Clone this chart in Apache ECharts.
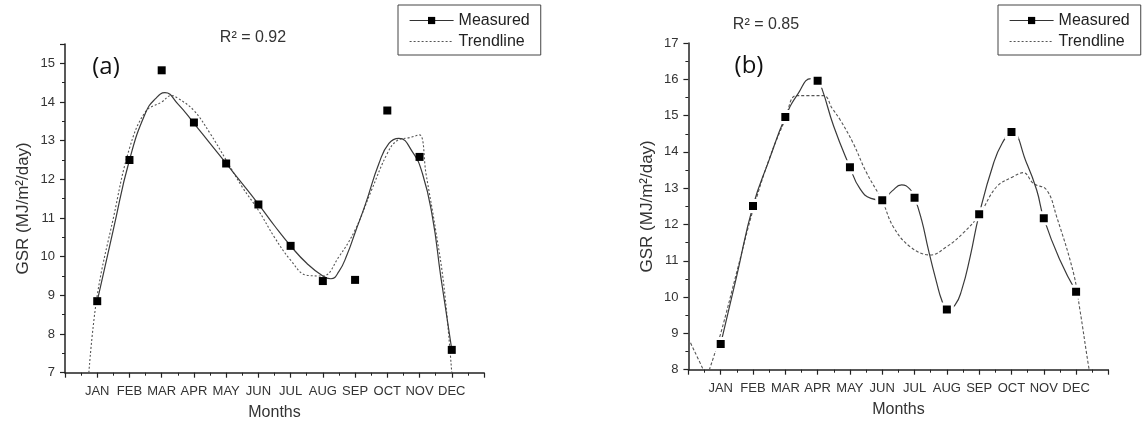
<!DOCTYPE html>
<html>
<head>
<meta charset="utf-8">
<script src="https://cdn.jsdelivr.net/npm/echarts@6/dist/echarts.min.js"></script>
<style>
  html, body { margin: 0; padding: 0; background: #fff; }
  #chart { width: 1145px; height: 427px; }
</style>
</head>
<body>
<div id="chart"></div>
<script>
// month ticks
const monthLabels = ['JAN', 'FEB', 'MAR', 'APR', 'MAY', 'JUN', 'JUL', 'AUG', 'SEP', 'OCT', 'NOV', 'DEC'];

// (a) measured points + fitted curves
const measuredA = [8.85, 12.5, 14.82, 13.47, 12.41, 11.35, 10.28, 9.37, 9.4, 13.78, 12.58, 7.59];
const curveAX = [1, 1.5, 2, 2.5, 2.8, 3.1, 3.5, 4, 4.5, 5, 5.5, 6, 6.5, 7, 7.5, 8, 8.25, 8.5, 8.75, 9, 9.33, 9.74, 10.05, 10.36, 10.78, 11.09, 11.4, 11.66, 12];
const curveAY = [8.85, 10.7, 12.5, 13.72, 14.08, 14.24, 13.95, 13.45, 12.93, 12.41, 11.89, 11.36, 10.8, 10.28, 9.83, 9.5, 9.43, 9.62, 10.05, 10.62, 11.38, 12.41, 12.93, 13.06, 12.71, 12.15, 11.03, 9.48, 7.6];
const trendAX = [0.74, 1, 1.5, 2, 2.5, 3, 3.3, 3.5, 4, 4.5, 5, 5.5, 6, 6.5, 7, 7.5, 8, 8.5, 9, 9.5, 10, 10.3, 10.7, 11, 11.2, 11.5, 11.76, 12];
const trendAY = [7.0, 9.0, 11.0, 12.8, 13.75, 14.0, 14.17, 14.1, 13.78, 13.19, 12.5, 11.8, 11.2, 10.5, 9.91, 9.52, 9.5, 10.0, 10.69, 11.7, 12.67, 13.0, 13.08, 13.15, 12.15, 10.69, 9.22, 7.0];

// (b)
const measuredB = [8.71, 12.51, 14.96, 15.96, 13.58, 12.67, 12.74, 9.66, 12.28, 14.55, 12.17, 10.15];
const curveBX = [1.5, 2.5, 3.4, 3.8, 4.13, 4.5, 5.3, 5.65, 6.3, 6.6, 6.85, 7.22, 7.43, 7.69, 7.84, 8.25, 8.46, 8.72, 9.45, 9.72, 10.47, 10.78, 11.5];
const curveBY = [10.6, 13.78, 15.61, 16.02, 15.75, 14.7, 13.0, 12.72, 12.92, 13.09, 12.98, 12.12, 11.3, 10.38, 9.92, 9.78, 10.2, 11.11, 13.7, 14.25, 13.69, 12.95, 11.02];
const trendBX = [0, 0.46, 0.55, 0.65, 1, 1.5, 2, 2.5, 3, 3.35, 4.18, 4.45, 4.7, 5.1, 5.5, 6, 6.34, 6.86, 7.48, 8, 8.5, 9, 9.54, 10.06, 10.37, 10.68, 11.09, 11.4, 11.92, 12.12, 12.38, 12.45];
const trendBY = [8.86, 8.0, 7.8, 8.0, 9.0, 10.7, 12.4, 13.8, 14.9, 15.55, 15.55, 15.2, 14.88, 14.24, 13.45, 12.65, 11.94, 11.39, 11.16, 11.39, 11.76, 12.26, 13.04, 13.32, 13.43, 13.13, 12.95, 12.21, 10.66, 9.64, 8.13, 7.8];

const monthX = monthLabels.map((_, i) => i + 1);
const pts = (xs, ys) => xs.map((x, i) => [x, ys[i]]);

const FONT = 'Liberation Sans, Arial, sans-serif';
const INK = '#222';

function monthAxis(gridIndex) {
  return {
    type: 'value', gridIndex, min: 0, max: 13, interval: 1,
    name: 'Months', nameLocation: 'middle', nameGap: 32,
    nameTextStyle: { fontSize: 16, color: '#333', fontFamily: FONT },
    axisLine: { show: true, onZero: false, lineStyle: { color: INK, width: 1.5 } },
    axisTick: { show: true, length: 5, lineStyle: { color: INK, width: 1.2 } },
    minorTick: { show: true, splitNumber: 2, length: 3, lineStyle: { color: INK, width: 1 } },
    axisLabel: {
      fontSize: 13, color: '#333', fontFamily: FONT, margin: 12,
      formatter: (v) => monthLabels[v - 1] || ''
    },
    splitLine: { show: false }
  };
}

function gsrAxis(gridIndex, min, max) {
  return {
    type: 'value', gridIndex, min, max, interval: 1,
    name: 'GSR (MJ/m²/day)', nameLocation: 'middle', nameGap: 33,
    nameTextStyle: { fontSize: 17, color: '#333', fontFamily: FONT },
    axisLine: { show: true, onZero: false, lineStyle: { color: INK, width: 1.5 } },
    axisTick: { show: true, length: 5, lineStyle: { color: INK, width: 1.2 } },
    minorTick: { show: true, splitNumber: 2, length: 3, lineStyle: { color: INK, width: 1 } },
    axisLabel: {
      fontSize: 13, color: '#333', fontFamily: FONT, margin: 10,
      formatter: (v) => (Number.isInteger(v) ? String(v) : '')
    },
    splitLine: { show: false }
  };
}

function markers(idx, data, withGap) {
  return {
    name: 'Measured', type: 'line', xAxisIndex: idx, yAxisIndex: idx,
    data, symbol: 'rect', symbolSize: withGap ? 11 : 8, z: 4,
    lineStyle: { width: 0, opacity: 0, color: '#333' },
    itemStyle: withGap ? { color: '#000', borderColor: '#fff', borderWidth: 3 } : { color: '#000' }
  };
}

function curve(idx, data) {
  return {
    name: 'Measured', type: 'line', xAxisIndex: idx, yAxisIndex: idx,
    data, smooth: 0.5, symbol: 'none', z: 3,
    lineStyle: { color: '#3a3a3a', width: 1.2 }
  };
}

function trend(idx, data, dash) {
  return {
    name: 'Trendline', type: 'line', xAxisIndex: idx, yAxisIndex: idx,
    data, smooth: 0.4, symbol: 'none', z: 2,
    lineStyle: { color: '#555', width: 1.1, type: dash }
  };
}

function legendBox(left, measuredItem) {
  return {
    orient: 'vertical', left, top: 5,
    borderColor: '#444', borderWidth: 1, padding: [5, 11, 3, 11],
    itemGap: 0, itemWidth: 44, itemHeight: 9, selectedMode: false,
    textStyle: { fontSize: 16, color: INK, fontFamily: FONT, lineHeight: 21 },
    lineStyle: { width: 1.2, opacity: 1 },
    data: [measuredItem, { name: 'Trendline', itemStyle: { opacity: 0 } }]
  };
}

const curveBData = pts(monthX, measuredB).concat(pts(curveBX, curveBY)).sort((p, q) => p[0] - q[0]);

const option = {
  animation: false,
  textStyle: { fontFamily: FONT },
  grid: [
    { left: 65, top: 44, width: 419, height: 328.7 },
    { left: 688.4, top: 43, width: 420, height: 326.7 }
  ],
  xAxis: [monthAxis(0), monthAxis(1)],
  yAxis: [gsrAxis(0, 7, 15.5), gsrAxis(1, 8, 17)],
  legend: [
    legendBox(398, { name: 'Measured' }),
    legendBox(998, { name: 'Measured', itemStyle: { borderWidth: 0 } })
  ],
  graphic: [
    { type: 'text', x: 253, y: 38, style: { text: 'R² = 0.92', fontSize: 16, fill: '#333', fontFamily: FONT, align: 'center', verticalAlign: 'middle' } },
    { type: 'text', x: 766, y: 25, style: { text: 'R² = 0.85', fontSize: 16, fill: '#333', fontFamily: FONT, align: 'center', verticalAlign: 'middle' } },
    { type: 'text', x: 106, y: 67, style: { text: '(a)', fontSize: 24, fill: '#111', fontFamily: 'Open Sans, Noto Sans, sans-serif', align: 'center', verticalAlign: 'middle' } },
    { type: 'text', x: 749, y: 66, style: { text: '(b)', fontSize: 24, fill: '#111', fontFamily: 'Open Sans, Noto Sans, sans-serif', align: 'center', verticalAlign: 'middle' } }
  ],
  series: [
    markers(0, pts(monthX, measuredA), false),
    curve(0, pts(curveAX, curveAY)),
    trend(0, pts(trendAX, trendAY), [2, 2]),
    markers(1, pts(monthX, measuredB), true),
    curve(1, curveBData),
    trend(1, pts(trendBX, trendBY), [3, 2])
  ]
};

const chart = echarts.init(document.getElementById('chart'));
chart.setOption(option);

window.addEventListener('resize', function () {
  chart.resize();
});
</script>
</body>
</html>
